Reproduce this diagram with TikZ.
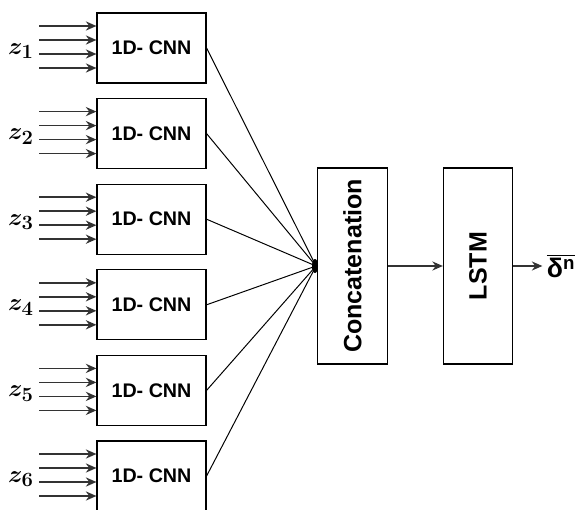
\documentclass[tikz,border=0pt]{standalone}
\usepackage{amsmath}
\usepackage{bm}
\usepackage{fontspec}
\setmainfont{Liberation Sans}
\usetikzlibrary{arrows.meta, positioning}

\tikzset{
  cnnbox/.style={draw, line width=0.8pt, minimum width=2.725cm, minimum height=1.75cm, font=\fontsize{14}{16}\selectfont\bfseries},
  tallbox/.style={draw, line width=0.8pt, minimum width=1.73cm, minimum height=4.9cm},
  inarrow/.style={-{Stealth[length=7.5pt,width=6.5pt]}, line width=1.2pt, black!80},
  link/.style={line width=0.7pt}
}

\begin{document}
\begin{tikzpicture}[x=0.025cm, y=-0.025cm]
\useasboundingbox (0,0) rectangle (576,510);

% Draw the six 1D-CNN branches with their inputs
\foreach \i in {1,...,6} {
  \node[cnnbox] (cnn\i) at (151.5, {48+85.6*(\i-1)}) {1D- CNN};
  \node (z\i) at (21, {51+85.6*(\i-1)}) {\fontsize{19}{21}\selectfont$\bm{z}_{\bm{\i}}$};
  \foreach \k/\dy in {a/-22, b/-8, c/6, d/20} {
    \coordinate (in\i\k) at (39, {48+85.6*(\i-1)+\dy});
    \draw[inarrow] (in\i\k) -- (in\i\k -| cnn\i.west);
  }
}

% Draw concatenation and LSTM boxes
\node[tallbox] (concat) at (352.5,266) {};
\node[rotate=90, font=\fontsize{17.8}{20}\selectfont\bfseries] at (concat) {Concatenation};
\node[tallbox] (lstm) at (478,266) {};
\node[rotate=90, font=\fontsize{17.8}{20}\selectfont\bfseries] at (lstm) {LSTM};

% Draw links into the junction
\coordinate (j) at (316,266);
\foreach \i in {1,...,6}
  \draw[link] (cnn\i.east) -- (j);
\fill (315,266) ellipse (3 and 7);

% Draw output arrows
\draw[inarrow, line width=0.8pt] (concat.east) -- (lstm.west);
\node[inner sep=3pt] (out) at (561,266) {\fontsize{19}{22}\selectfont$\overline{\mbox{\bfseries δ\textsuperscript{n}}}$};
\draw[inarrow, line width=0.8pt] (lstm.east) -- (out.west);

\end{tikzpicture}
\end{document}
